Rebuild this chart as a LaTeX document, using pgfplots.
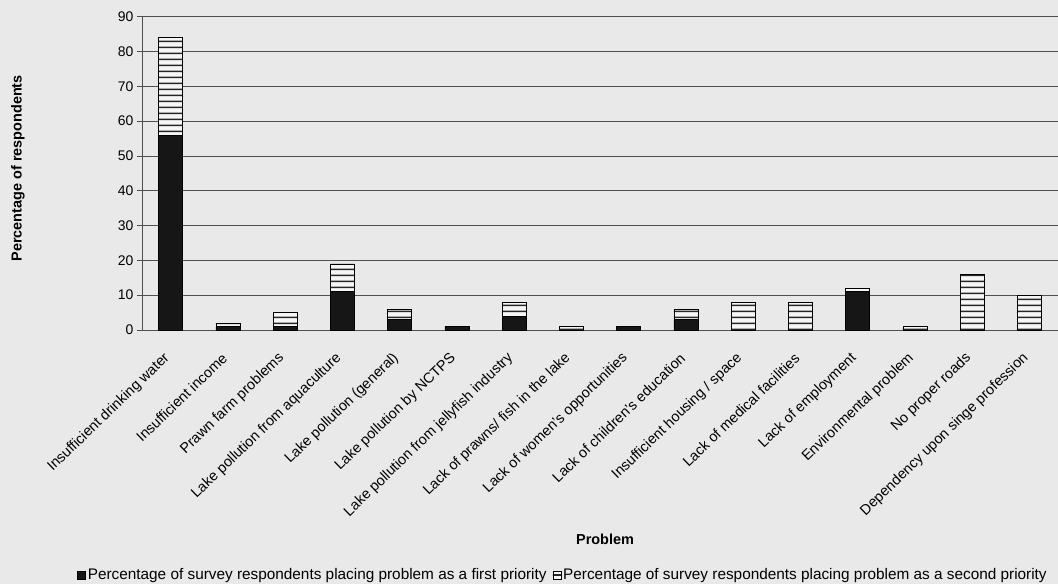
\documentclass[border=0pt]{standalone}
\usepackage{pgfplots}
\pgfplotsset{compat=1.18}
\usepackage{fontspec}
\setmainfont{Liberation Sans}
\usetikzlibrary{patterns}
\pgfdeclarepatternformonly{hlines}{\pgfpoint{0pt}{0pt}}{\pgfpoint{100pt}{6bp}}{\pgfpoint{100pt}{6bp}}{%
  \pgfsetlinewidth{1.6bp}%
  \pgfpathmoveto{\pgfpoint{-1pt}{3bp}}\pgfpathlineto{\pgfpoint{101pt}{3bp}}\pgfusepath{stroke}}
\definecolor{bg}{RGB}{233,233,233}
\definecolor{barblack}{RGB}{22,22,22}
\definecolor{gridc}{RGB}{80,80,80}
\definecolor{hatchbg}{RGB}{246,246,246}
\begin{document}
\begin{tikzpicture}
\path[use as bounding box, fill=bg] (-142bp,-254bp) rectangle (916bp,330bp);
\begin{axis}[
  at={(0,0)}, anchor=south west,
  scale only axis, width=916bp, height=313.3bp,
  ybar stacked, bar width=24bp,
  xmin=-0.5, xmax=15.5, ymin=0, ymax=90,
  ytick={0,10,...,90},
  xtick={0,...,15},
  xticklabels={Insufficient drinking water, Insufficient income, Prawn farm problems, Lake pollution from aquaculture, Lake pollution (general), Lake pollution by NCTPS, Lake pollution from jellyfish industry, Lack of prawns/ fish in the lake, Lack of women's opportunities, Lack of children's education, Insufficient housing / space, Lack of medical facilities, Lack of employment, Environmental problem, No proper roads, Dependency upon singe profession},
  x tick label style={rotate=44, anchor=east, font=\fontsize{14.5}{16}\selectfont, yshift=-16.4bp, xshift=-17bp},
  y tick label style={font=\fontsize{14}{16}\selectfont},
  /pgf/number format/assume math mode=true,
  axis lines*=left,
  axis line style={-, draw=gridc, line width=0.8bp},
  xtick style={draw=none},
  ytick style={draw=gridc, line width=0.8bp},
  ytick align=outside, major tick length=5bp,
  ymajorgrids, grid style={draw=gridc, line width=0.8bp},
  xlabel={\textbf{Problem}},
  xlabel style={at={(axis description cs:0.5055,0)}, anchor=center, yshift=-209bp, font=\fontsize{14.5}{16}\selectfont},
  ylabel={\textbf{Percentage of respondents}},
  ylabel style={at={(axis description cs:-0.1354,0.516)}, anchor=center, font=\fontsize{14.5}{16}\selectfont},
  legend columns=2,
  legend style={draw=none, fill=none, at={(axis description cs:0.4596,0)}, anchor=center, yshift=-245bp, font=\fontsize{15.4}{17}\selectfont, /tikz/every even column/.append style={column sep=4bp}},
  legend image code/.code={\draw[#1] (0bp,-4bp) rectangle (8bp,4bp);},
  clip=false,
]
\addplot[fill=barblack, draw=black, line width=0.6bp] coordinates {
 (0,56) (1,1) (2,1) (3,11) (4,3) (5,1) (6,4) (7,0) (8,1) (9,3) (10,0) (11,0) (12,11) (13,0) (14,0) (15,0)};
\addlegendentry{Percentage of survey respondents placing problem as a first priority}
\addplot[fill=hatchbg, draw=black, line width=0.6bp, postaction={pattern=hlines, pattern color=black!85}] coordinates {
 (0,28) (1,1) (2,4) (3,8) (4,3) (5,0) (6,4) (7,1) (8,0) (9,3) (10,8) (11,8) (12,1) (13,1) (14,16) (15,10)};
\addlegendentry{Percentage of survey respondents placing problem as a second priority}
\end{axis}
\end{tikzpicture}
\end{document}
